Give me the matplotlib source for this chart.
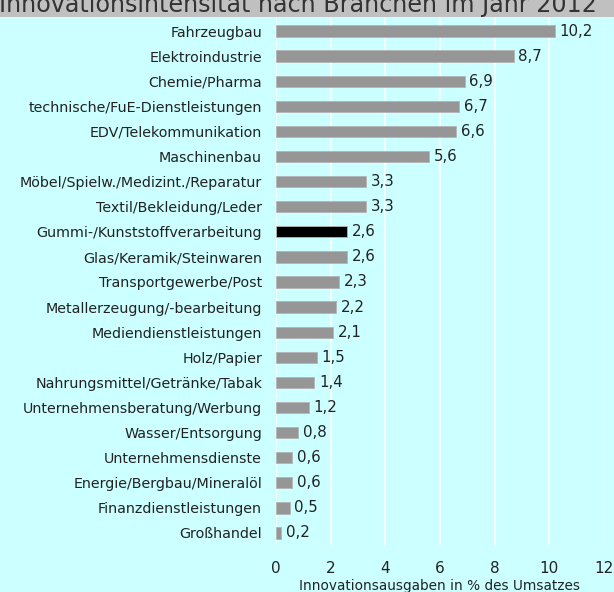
import matplotlib
matplotlib.use("Agg")
import matplotlib.pyplot as plt
from matplotlib.patches import Rectangle

# Data (Innovationsintensität 2012)
branchen = ["Fahrzeugbau", "Elektroindustrie", "Chemie/Pharma",
            "technische/FuE-Dienstleistungen", "EDV/Telekommunikation",
            "Maschinenbau", "Möbel/Spielw./Medizint./Reparatur",
            "Textil/Bekleidung/Leder", "Gummi-/Kunststoffverarbeitung",
            "Glas/Keramik/Steinwaren", "Transportgewerbe/Post",
            "Metallerzeugung/-bearbeitung", "Mediendienstleistungen",
            "Holz/Papier", "Nahrungsmittel/Getränke/Tabak",
            "Unternehmensberatung/Werbung", "Wasser/Entsorgung",
            "Unternehmensdienste", "Energie/Bergbau/Mineralöl",
            "Finanzdienstleistungen", "Großhandel"]
werte = [10.2, 8.7, 6.9, 6.7, 6.6, 5.6, 3.3, 3.3, 2.6, 2.6, 2.3,
         2.2, 2.1, 1.5, 1.4, 1.2, 0.8, 0.6, 0.6, 0.5, 0.2]
hervorgehoben = "Gummi-/Kunststoffverarbeitung"

bg = "#ccffff"
fig = plt.figure(figsize=(6.14, 5.92), dpi=100, facecolor=bg)
ax = fig.add_axes([0.4495, 0.0785, 0.5342, 0.8903])
ax.set_facecolor(bg)

# title band, text cut off at top like in the original
fig.patches.append(Rectangle((0, 1 - 17 / 592), 1, 17 / 592, transform=fig.transFigure,
                             facecolor="#c0c0c0", edgecolor="none", zorder=5))
fig.text(-1 / 614, 1 - 12 / 592, "Innovationsintensität nach Branchen im Jahr 2012",
         fontsize=17.2, color="#333333", va="baseline", ha="left", zorder=6)

ypos = list(range(len(branchen)))
farben = ["black" if b == hervorgehoben else "#969696" for b in branchen]
ax.barh(ypos, werte, height=0.45, color=farben, edgecolor="#b4b4b4", linewidth=0.6, zorder=3)

for y, v in zip(ypos, werte):
    ax.text(v + 0.17, y, f"{v:.1f}".replace(".", ","), va="center", ha="left",
            fontsize=10.8, color="#222222")

ax.set_yticks(ypos)
ax.set_yticklabels(branchen, fontsize=10.3, color="#222222")
ax.set_ylim(len(branchen) - 0.5, -0.5)
ax.set_xlim(0, 12)
ax.set_xticks(range(0, 13, 2))
ax.tick_params(axis="x", length=0, pad=11, labelsize=11, labelcolor="#222222")
ax.tick_params(axis="y", length=0, pad=10)
ax.set_xlabel("Innovationsausgaben in % des Umsatzes", fontsize=9.8, color="#222222", labelpad=2)
ax.grid(axis="x", color="white", linewidth=1.2, zorder=0)
ax.set_axisbelow(True)
for s in ax.spines.values():
    s.set_visible(False)

fig.savefig("out.png", dpi=100, facecolor=bg)
